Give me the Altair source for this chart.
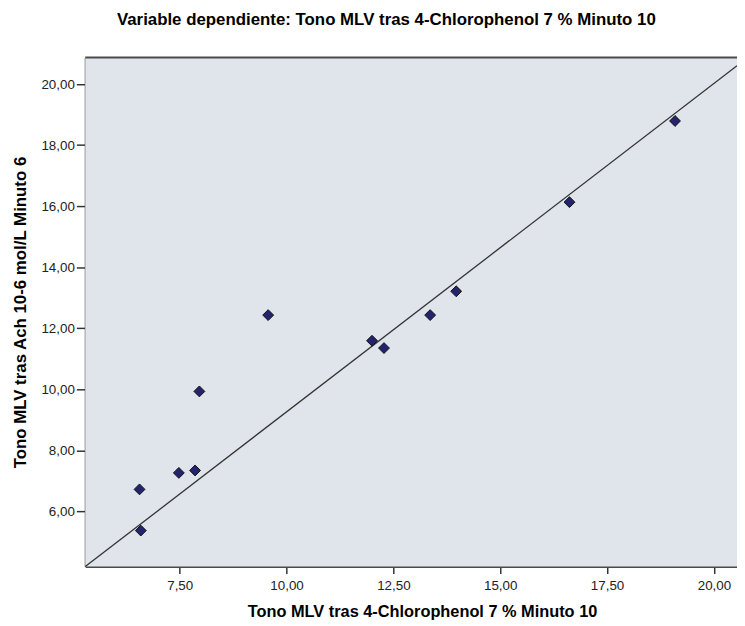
import altair as alt
import pandas as pd

# Data
x_vals = [6.56, 6.59, 7.48, 7.86, 7.96, 9.57, 12.00, 12.28, 13.36, 13.97, 16.62, 19.09]
y_vals = [6.72, 5.37, 7.26, 7.34, 9.93, 12.43, 11.59, 11.35, 12.43, 13.21, 16.13, 18.79]
line_x = [5.29, 20.54]
line_y = [4.19, 20.60]
x_ticks = [7.5, 10, 12.5, 15, 17.5, 20]
y_ticks = [6, 8, 10, 12, 14, 16, 18, 20]
x_domain = [5.29, 20.54]
y_domain = [4.19, 20.87]

title_text = "Variable dependiente: Tono MLV tras 4-Chlorophenol 7 % Minuto 10"
x_title = "Tono MLV tras 4-Chlorophenol 7 % Minuto 10"
y_title = "Tono MLV tras Ach 10-6 mol/L Minuto 6"

FONT = "Liberation Sans"
pts = pd.DataFrame({"x": x_vals, "y": y_vals})
line_df = pd.DataFrame({"x": line_x, "y": line_y})
frame_df = pd.DataFrame({"k": [0]})

label_expr = "replace(format(datum.value, '.2f'), '.', ',')"

x_enc = alt.X(
    "x:Q",
    scale=alt.Scale(domain=x_domain, nice=False, zero=False),
    axis=alt.Axis(
        values=x_ticks, labelExpr=label_expr, title=x_title,
        titleX=340, titleY=50, titleAlign="center", titleBaseline="alphabetic",
        titleFont=FONT, titleFontSize=16.5, titleFontWeight="bold", titleColor="#000",
        labelFont=FONT, labelFontSize=13.5, labelColor="#222", labelPadding=5,
        tickSize=7, tickWidth=1.5, tickColor="#333",
        domainColor="#4a4a4a", domainWidth=2, grid=False,
    ),
)
y_enc = alt.Y(
    "y:Q",
    scale=alt.Scale(domain=y_domain, nice=False, zero=False),
    axis=alt.Axis(
        values=y_ticks, labelExpr=label_expr, title=y_title,
        titleX=-65.5, titleY=257, titleAngle=270, titleAlign="center", titleBaseline="middle",
        titleFont=FONT, titleFontSize=17, titleFontWeight="bold", titleColor="#000",
        labelFont=FONT, labelFontSize=13.5, labelColor="#222", labelPadding=2,
        tickSize=9, tickWidth=1.5, tickColor="#333",
        domainColor="#4a4a4a", domainWidth=2, grid=False,
    ),
)

bg = alt.Chart(frame_df).mark_rect(color="#e0e5eb").encode(
    x=alt.value(0), x2=alt.value(658), y=alt.value(0), y2=alt.value(514)
)
top_rule = alt.Chart(frame_df).mark_rule(color="#4a4a4a", strokeWidth=2).encode(
    y=alt.value(0)
)
fit = alt.Chart(line_df).mark_line(color="#333", strokeWidth=1.3).encode(
    x=x_enc, y=y_enc
)
points = alt.Chart(pts).mark_point(
    shape="diamond", filled=True, size=120, fill="#23236e", stroke="#111", strokeWidth=1, opacity=1
).encode(x="x:Q", y="y:Q")

chart = alt.layer(bg, top_rule, fit, points).properties(
    width=658,
    height=514,
    autosize=alt.AutoSizeParams(type="none"),
    padding={"left": 78, "top": 47, "right": 0, "bottom": 57},
    title=alt.TitleParams(
        text=title_text, font=FONT, fontSize=17, fontWeight="bold", color="#000",
        anchor="middle", frame="group", dx=-25, offset=28,
    ),
).configure_view(stroke=None).configure(background="white")

chart.save("out.html", embed_options={"renderer": "svg", "actions": False})
